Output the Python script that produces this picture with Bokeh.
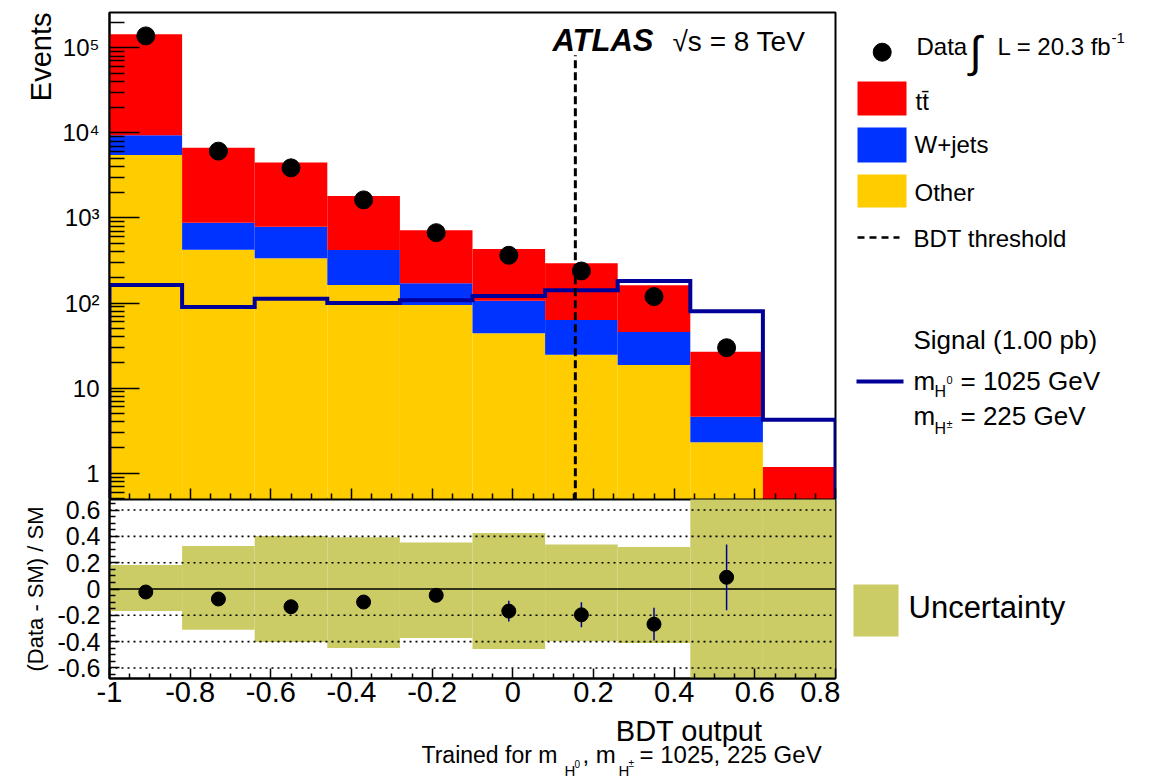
import numpy as np
from bokeh.plotting import figure
from bokeh.models import Range1d, FixedTicker, PrintfTickFormatter, Label
from bokeh.layouts import row, column
from bokeh.embed import file_html
from bokeh.resources import INLINE
from bokeh.core.properties import value

# ---------------- data ----------------
bin_edges = [-1.0, -0.82, -0.64, -0.46, -0.28, -0.10, 0.08, 0.26, 0.44, 0.62, 0.80]
other = [5500, 424, 336, 163, 95, 44, 24.6, 18.7, 2.3, 0.3]
wjets = [3900, 456, 454, 258, 76, 62, 38.4, 26.9, 2.3, 0.1]
ttbar = [134600, 5820, 3700, 1394, 545, 325, 230, 116, 22.1, 0.78]
data_events = [138000, 6100, 3880, 1630, 671, 364, 238, 119, 29.8]
signal = [163, 90, 112, 100, 108, 121, 141, 181, 80, 4.25]
ratio = [-0.023, -0.076, -0.135, -0.099, -0.048, -0.168, -0.196, -0.267, 0.089]
ratio_err = [0.01, 0.02, 0.025, 0.03, 0.05, 0.078, 0.095, 0.125, 0.25]
unc_up = [0.183, 0.326, 0.402, 0.394, 0.353, 0.425, 0.338, 0.32, 1.0, 1.0]
unc_dn = [-0.168, -0.31, -0.402, -0.448, -0.372, -0.456, -0.397, -0.41, -1.0, -1.0]
bdt_threshold = 0.155
threshold_top = 8.2e4
x_ticks = [-1, -0.8, -0.6, -0.4, -0.2, 0, 0.2, 0.4, 0.6, 0.8]
ratio_ticks = [-0.6, -0.4, -0.2, 0, 0.2, 0.4, 0.6]
ratio_grid = [-0.6, -0.4, -0.2, 0.2, 0.4, 0.6]
log_ticks = [1, 10, 100, 1000, 10000, 100000]
log_labels = ["1", "10", "10²", "10³", "10⁴", "10⁵"]

FONT = "Liberation Sans"
RED, BLUE, ORANGE, NAVY, OLIVE = "#FF0000", "#0033FF", "#FFCC00", "#000099", "#CCCC66"

edges = np.array(bin_edges)
left, right = edges[:-1], edges[1:]
centers = 0.5 * (left + right)
c1 = np.array(other)
c2 = c1 + np.array(wjets)
c3 = c2 + np.array(ttbar)
floor = 1e-3

x_minor = [round(-1 + 0.05 * k, 2) for k in range(37) if k % 4 != 0]
r_minor = [round(-0.65 + 0.05 * k, 2) for k in range(27)]
r_minor = [v for v in r_minor if abs(v / 0.2 - round(v / 0.2)) > 1e-6]
log_minor = [m * 10.0 ** e for e in range(-1, 6) for m in range(2, 10)]


def style_axis(ax, tin, tmin, size, standoff):
    ax.major_tick_in, ax.major_tick_out = tin, 0
    ax.minor_tick_in, ax.minor_tick_out = tmin, 0
    ax.axis_line_width = 2
    ax.axis_line_color = "black"
    ax.major_tick_line_width = 1.5
    ax.minor_tick_line_width = 1.5
    ax.major_tick_line_color = "black"
    ax.minor_tick_line_color = "black"
    ax.major_label_text_font = FONT
    ax.major_label_text_font_size = size
    ax.major_label_text_color = "black"
    ax.major_label_standoff = standoff


def ctext(f, x, y, t, size, align="left", angle=0.0):
    f.text(x=[x], y=[y], text=[t], text_font=value(FONT), text_font_size=size,
           text_baseline="middle", text_align=align, text_color="black", angle=angle)


def plain_fig(w, h, x0, x1, y0, y1, **borders):
    f = figure(width=w, height=h, x_range=Range1d(x0, x1), y_range=Range1d(y1, y0),
               toolbar_location=None, output_backend="svg", min_border=0,
               x_axis_location=None, y_axis_location=None, **borders)
    f.grid.visible = False
    f.outline_line_color = None
    return f


# ---------------- "Events" strip (frame = canvas y 12..499) ----------------
ev = figure(width=55, height=499, x_range=Range1d(0, 55), y_range=Range1d(0, 487),
            toolbar_location=None, output_backend="svg", min_border=0, min_border_top=12,
            x_axis_location=None, y_axis_location=None)
ev.grid.visible = False
ev.outline_line_color = None
ctext(ev, 40, 487, "Events", "29px", "right", np.pi / 2)

# ---------------- top panel ----------------
top = figure(width=785, height=499, y_axis_type="log",
             x_range=Range1d(-1, 0.8), y_range=Range1d(0.49, 2.6e5),
             toolbar_location=None, output_backend="svg",
             min_border_left=54, min_border_right=5, min_border_top=12, min_border_bottom=0)
top.grid.visible = False
top.outline_line_color = "black"
top.outline_line_width = 2

top.quad(left=left, right=right, bottom=floor, top=c1, fill_color=ORANGE, line_color=None)
top.quad(left=left, right=right, bottom=c1, top=c2, fill_color=BLUE, line_color=None)
top.quad(left=left, right=right, bottom=c2, top=c3, fill_color=RED, line_color=None)

sx, sy = [edges[0]], [floor]
for i in range(len(signal)):
    sx += [edges[i], edges[i + 1]]
    sy += [signal[i], signal[i]]
sx.append(edges[-1]); sy.append(floor)
top.line(sx, sy, line_color=NAVY, line_width=4, line_join="miter")

top.segment(x0=[bdt_threshold], y0=[floor], x1=[bdt_threshold], y1=[threshold_top],
            line_color="black", line_width=3, line_dash="8 4")
top.scatter(centers[:len(data_events)], data_events, size=18, color="black")

ya = top.yaxis[0]
ya.ticker = FixedTicker(ticks=log_ticks, minor_ticks=log_minor)
ya.major_label_overrides = dict(zip(log_ticks, log_labels))
style_axis(ya, 30, 15, "24px", 10)

xa = top.xaxis[0]
xa.ticker = FixedTicker(ticks=x_ticks, minor_ticks=x_minor)
style_axis(xa, 11, 6, "1px", 0)
xa.major_label_text_color = None

top.add_layout(Label(x=443, y=459, x_units="screen", y_units="screen", text="ATLAS",
                     text_font=FONT, text_font_size="31px", text_font_style="bold italic",
                     text_baseline="middle", text_color="black"))
top.add_layout(Label(x=563, y=458, x_units="screen", y_units="screen", text="√s = 8 TeV",
                     text_font=FONT, text_font_size="28px", text_baseline="middle",
                     text_color="black"))

# ---------------- ratio panel ----------------
bot = figure(width=840, height=215, x_range=top.x_range, y_range=Range1d(-0.68, 0.68),
             toolbar_location=None, output_backend="svg",
             min_border_left=109, min_border_right=5, min_border_top=0, min_border_bottom=36)
bot.grid.visible = False
bot.outline_line_color = "black"
bot.outline_line_width = 2

bot.quad(left=left, right=right, bottom=unc_dn, top=unc_up, fill_color=OLIVE, line_color=None)
bot.segment(x0=-1, x1=0.8, y0=ratio_grid, y1=ratio_grid, line_color="black",
            line_width=1.6, line_dash="2 4")
bot.segment(x0=[-1], x1=[0.8], y0=[0], y1=[0], line_color="black", line_width=1.5)
rc = centers[:len(ratio)]
rr = np.array(ratio); re = np.array(ratio_err)
bot.segment(x0=rc, x1=rc, y0=rr - re, y1=rr + re, line_color=NAVY, line_width=1.5)
bot.scatter(rc, ratio, size=14, color="black")

bx = bot.xaxis[0]
bx.ticker = FixedTicker(ticks=x_ticks, minor_ticks=x_minor)
bx.formatter = PrintfTickFormatter(format="%g")
style_axis(bx, 10, 5, "29px", 3)

by = bot.yaxis[0]
by.ticker = FixedTicker(ticks=ratio_ticks, minor_ticks=r_minor)
by.formatter = PrintfTickFormatter(format="%g")
style_axis(by, 10, 6, "25px", 9)
by.axis_label = "(Data - SM) / SM"
by.axis_label_text_font = FONT
by.axis_label_text_font_size = "22px"
by.axis_label_text_font_style = "normal"
by.axis_label_text_color = "black"
by.axis_label_standoff = 6

# ---------------- x title strip (frame = canvas x 109..835, y 714..781) ----------------
tx = plain_fig(840, 67, 109, 835, 714, 781, min_border_left=109, min_border_right=5)
ctext(tx, 762, 730, "BDT output", "29px", "right")
ctext(tx, 421, 754, "Trained for m", "23px")
ctext(tx, 564, 770, "H", "15px")
ctext(tx, 574, 763, "0", "10px")
ctext(tx, 582, 754, ", m", "24px")
ctext(tx, 618, 770, "H", "15px")
ctext(tx, 628, 763, "±", "10px")
ctext(tx, 639, 754, "= 1025, 225 GeV", "24px")

# ---------------- legend areas (canvas coordinates) ----------------
lt = plain_fig(314, 498, 840, 1154, 0, 498)
lt.scatter([881.7], [51.7], size=18, color="black")
ctext(lt, 916, 45.5, "Data", "24px")
ctext(lt, 969, 51, "∫", "44px")
ctext(lt, 997, 45.5, "L = 20.3 fb", "24px")
ctext(lt, 1111, 37.5, "-1", "15px")
lt.quad(left=[857], right=[906], top=[81], bottom=[115], fill_color=RED, line_color=None)
ctext(lt, 915, 101, "tt\u0304", "24px")
lt.quad(left=[857], right=[906], top=[127], bottom=[162], fill_color=BLUE, line_color=None)
ctext(lt, 914, 143.5, "W+jets", "24px")
lt.quad(left=[857], right=[906], top=[174], bottom=[207], fill_color=ORANGE, line_color=None)
ctext(lt, 914, 191.5, "Other", "24px")
lt.segment(x0=[857], x1=[899], y0=[237], y1=[237], line_color="black", line_width=2.5,
           line_dash="7 5")
ctext(lt, 913, 238, "BDT threshold", "24px")
ctext(lt, 913, 339, "Signal (1.00 pb)", "26px")
lt.segment(x0=[856], x1=[903], y0=[381], y1=[381], line_color=NAVY, line_width=4)
ctext(lt, 913, 380, "m", "26px")
ctext(lt, 934, 391, "H", "16px")
ctext(lt, 946, 379, "0", "11px")
ctext(lt, 960, 380, "= 1025 GeV", "26px")
ctext(lt, 913, 415.5, "m", "26px")
ctext(lt, 934, 428, "H", "16px")
ctext(lt, 946, 423, "±", "11px")
ctext(lt, 960, 415.5, "= 225 GeV", "26px")

lb = plain_fig(314, 283, 840, 1154, 498, 781)
lb.quad(left=[853], right=[898], top=[584], bottom=[636], fill_color=OLIVE, line_color=None)
ctext(lb, 908, 607, "Uncertainty", "31px")

layout = row(column(row(ev, top), bot, tx), column(lt, lb))
open("out.html", "w").write(file_html(layout, INLINE))
